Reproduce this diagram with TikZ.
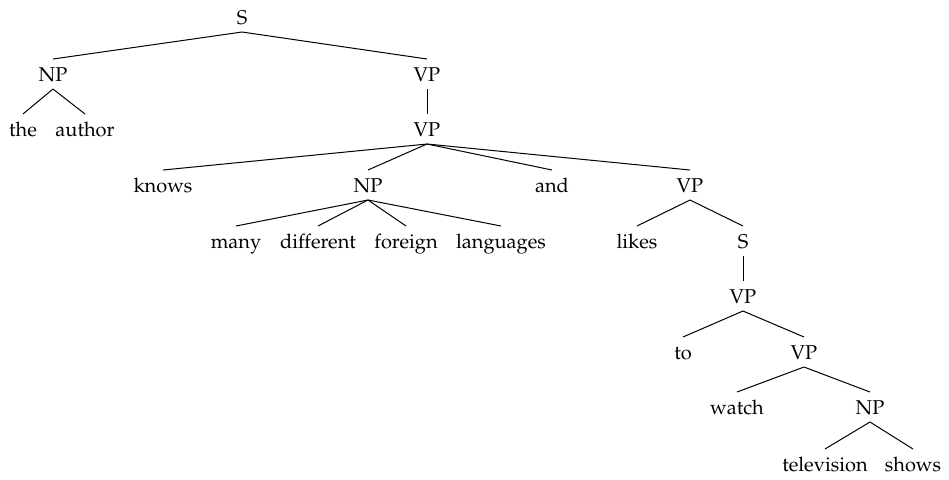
\documentclass[tikz,border=0pt]{standalone}
\usepackage[T1]{fontenc}
\usepackage{mathpazo}
\begin{document}
\begin{tikzpicture}[x=0.5pt,y=-0.5pt,
  cat/.style={inner sep=0pt,outer sep=0pt,anchor=base,text height=11.25pt,text depth=3.75pt,font=\fontsize{10}{12}\selectfont},
  branch/.style={line width=0.5pt}]
\useasboundingbox (0,0) rectangle (949,479);
% level 0
\node[cat] (s)    at (242,24.5) {S};
% level 1
\node[cat] (np1)  at (53,81.5) {NP};
\node[cat] (vp1)  at (427,81.5) {VP};
% level 2
\node[cat] (the)  at (23,136.5) {the};
\node[cat] (auth) at (85,136.5) {author};
\node[cat] (vp2)  at (427,136.5) {VP};
% level 3
\node[cat] (knows) at (163,192.5) {knows};
\node[cat] (np2)   at (368,192.5) {NP};
\node[cat] (and)   at (552,192.5) {and};
\node[cat] (vp3)   at (690,192.5) {VP};
% level 4
\node[cat] (many)  at (236,248.5) {many};
\node[cat] (diff)  at (318,248.5) {different};
\node[cat] (fore)  at (406,248.5) {foreign};
\node[cat] (lang)  at (501,248.5) {languages};
\node[cat] (likes) at (637,248.5) {likes};
\node[cat] (s2)    at (743,248.5) {S};
% level 5
\node[cat] (vp4)   at (743,303.5) {VP};
% level 6
\node[cat] (to)    at (683,359.5) {to};
\node[cat] (vp5)   at (804,359.5) {VP};
% level 7
\node[cat] (watch) at (737,414.5) {watch};
\node[cat] (np3)   at (870,414.5) {NP};
% level 8
\node[cat] (tv)    at (825,471.5) {television};
\node[cat] (shows) at (913,471.5) {shows};
% branches
\draw[branch] (s.south) -- (np1.north);
\draw[branch] (s.south) -- (vp1.north);
\draw[branch] (np1.south) -- (the.north);
\draw[branch] (np1.south) -- (auth.north);
\draw[branch] (vp1.south) -- (vp2.north);
\draw[branch] (vp2.south) -- (knows.north);
\draw[branch] (vp2.south) -- (np2.north);
\draw[branch] (vp2.south) -- (and.north);
\draw[branch] (vp2.south) -- (vp3.north);
\draw[branch] (np2.south) -- (many.north);
\draw[branch] (np2.south) -- (diff.north);
\draw[branch] (np2.south) -- (fore.north);
\draw[branch] (np2.south) -- (lang.north);
\draw[branch] (vp3.south) -- (likes.north);
\draw[branch] (vp3.south) -- (s2.north);
\draw[branch] (s2.south) -- (vp4.north);
\draw[branch] (vp4.south) -- (to.north);
\draw[branch] (vp4.south) -- (vp5.north);
\draw[branch] (vp5.south) -- (watch.north);
\draw[branch] (vp5.south) -- (np3.north);
\draw[branch] (np3.south) -- (tv.north);
\draw[branch] (np3.south) -- (shows.north);
\end{tikzpicture}
\end{document}
